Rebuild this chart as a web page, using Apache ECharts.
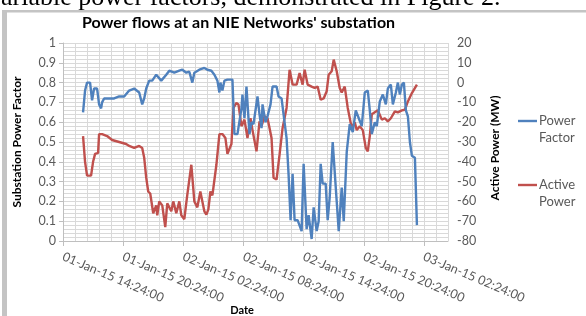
<!DOCTYPE html>
<html>
<head>
<meta charset="utf-8">
<script src="https://cdn.jsdelivr.net/npm/echarts@6/dist/echarts.min.js"></script>
<style>
html,body{margin:0;padding:0;background:#fff;}
#c{width:586px;height:316px;}
</style>
</head>
<body>
<div id="c"></div>
<script>
// hours after 01-Jan-15 14:24:00
var pfHours = [2.0,2.2,2.4,2.7,2.9,3.1,3.4,3.6,3.8,3.9,4.1,4.6,5.1,5.6,6.1,6.6,7.1,7.6,7.9,8.1,8.3,8.6,8.9,9.3,9.8,10.3,10.6,11.1,11.6,11.9,12.3,12.6,12.9,13.1,13.6,14.1,14.4,14.8,15.1,15.4,15.6,15.7,15.9,16.1,16.4,16.9,17.1,17.4,17.8,17.9,18.1,18.3,18.6,18.8,19.0,19.4,19.6,19.8,19.9,20.2,20.4,20.7,20.9,21.3,21.5,21.8,22.0,22.3,22.5,22.7,22.9,23.1,23.4,23.8,24.0,24.3,24.5,24.8,25.0,25.3,25.5,25.7,25.9,26.2,26.4,26.6,26.9,27.3,27.5,27.8,28.0,28.3,28.6,28.9,29.2,29.5,29.8,30.1,30.4,30.6,30.8,31.1,31.3,31.6,31.9,32.2,32.4,32.7,32.9,33.2,33.4,33.6,33.8,34.0,34.2,34.4,34.6,34.8,35.1,35.3];
var powerFactor = [0.65,0.76,0.80,0.80,0.71,0.77,0.77,0.69,0.67,0.70,0.72,0.72,0.72,0.73,0.73,0.76,0.77,0.75,0.69,0.72,0.77,0.81,0.81,0.84,0.81,0.84,0.86,0.85,0.86,0.865,0.85,0.855,0.80,0.85,0.865,0.874,0.865,0.86,0.84,0.81,0.75,0.80,0.76,0.81,0.815,0.815,0.54,0.54,0.67,0.74,0.62,0.78,0.54,0.60,0.59,0.73,0.64,0.57,0.69,0.60,0.63,0.69,0.78,0.78,0.73,0.72,0.64,0.52,0.335,0.105,0.34,0.105,0.105,0.05,0.39,0.06,0.13,0.01,0.17,0.05,0.10,0.39,0.29,0.29,0.105,0.22,0.50,0.20,0.05,0.27,0.10,0.45,0.59,0.55,0.66,0.62,0.58,0.75,0.76,0.66,0.54,0.60,0.58,0.705,0.74,0.69,0.77,0.79,0.69,0.75,0.80,0.74,0.79,0.80,0.66,0.63,0.50,0.43,0.42,0.08];
var apHours = [2.0,2.2,2.4,2.8,3.0,3.2,3.5,3.6,3.9,4.4,4.9,5.6,6.3,6.6,7.1,7.6,7.9,8.1,8.3,8.5,8.7,9.0,9.3,9.4,9.6,9.9,10.2,10.4,10.8,11.0,11.3,11.6,11.8,12.1,12.4,12.8,13.1,13.4,13.7,13.9,14.1,14.3,14.5,14.7,14.9,15.3,15.6,15.9,16.2,16.4,16.8,17.0,17.3,17.5,17.8,18.1,18.4,18.7,18.9,19.3,19.6,19.8,20.1,20.4,20.8,21.0,21.3,21.6,21.9,22.3,22.6,22.9,23.3,23.6,23.9,24.1,24.4,24.8,25.1,25.4,25.7,26.0,26.3,26.5,26.8,27.0,27.3,27.6,27.8,28.1,28.4,28.8,29.1,29.3,29.6,29.9,30.2,30.4,30.6,30.8,31.1,31.4,31.8,32.1,32.4,32.7,33.1,33.4,33.8,34.1,34.4,34.8,35.3];
var activePower = [-27,-40,-47,-47,-40,-36,-35.5,-26,-26,-27,-29,-30,-31,-32,-33,-32,-33,-38,-48,-55,-56,-66,-62,-67,-60,-62,-73,-61,-65,-60,-66,-60,-67,-69,-56.6,-41.5,-60,-63,-55,-60,-65,-66.7,-64,-55,-57,-41.5,-26,-26,-28,-36,-31,-12.8,-10.3,-11,-22,-18.7,-28,-18,-24,-34.7,-19.6,-22,-17,-18,-28,-48,-49,-36.4,-23,-12.8,6.5,-1,-1,4.8,-1,6.5,-1,-2,-2.7,-2,-8.6,-8,-4.4,4,5.7,11.6,5.7,-2.7,-5,-2,-12.8,-23,-20,-24,-22,-24,-33,-34.7,-27,-16,-15,-14,-18.7,-18,-19.6,-18,-14.5,-15,-14,-13.7,-9.5,-5.3,-1];
var tickLabels = ['01-Jan-15 14:24:00','01-Jan-15 20:24:00','02-Jan-15 02:24:00','02-Jan-15 08:24:00','02-Jan-15 14:24:00','02-Jan-15 20:24:00','03-Jan-15 02:24:00'];
var seriesNames = ['Power Factor','Active Power'];
var titleText = "Power flows at an NIE Networks' substation";

function zip(a,b){return a.map(function(v,i){return [v,b[i]];});}

var FONT = 'Lato';
var LBL = '#595959';
var GRID = '#d9d9d9';
var BLUE = '#4F81BD', RED = '#C0504D';

var chart = echarts.init(document.getElementById('c'), null, {renderer:'canvas'});
chart.setOption({
  animation:false,
  backgroundColor:'#fff',
  grid:{left:63,right:138,top:43,bottom:75,containLabel:false},
  xAxis:[{
    type:'value',min:0,max:38.4,interval:6,
    axisLine:{show:true,onZero:false,lineStyle:{color:'#bfbfbf',width:1}},
    axisTick:{show:true,length:5,inside:false,lineStyle:{color:'#bfbfbf'}},
    splitLine:{show:true,lineStyle:{color:GRID,width:1}},
    axisLabel:{rotate:-23,margin:15,color:LBL,fontFamily:FONT,fontSize:12.5,showMaxLabel:false,
      formatter:function(v){var i=Math.round(v/6);return (Math.abs(v-i*6)<1e-6&&tickLabels[i])?tickLabels[i]:'';}}
  },{
    type:'value',min:0,max:38.4,interval:1.2,position:'bottom',
    axisLine:{show:false},axisTick:{show:false},axisLabel:{show:false},
    splitLine:{show:true,lineStyle:{color:GRID,width:1}}
  }],
  yAxis:[{
    type:'value',min:0,max:1,interval:0.1,position:'left',
    axisLine:{show:true,lineStyle:{color:'#bfbfbf'}},
    axisTick:{show:true,length:4,lineStyle:{color:'#bfbfbf'}},
    axisLabel:{color:LBL,fontFamily:FONT,fontSize:12.5,margin:7,
      formatter:function(v){return Math.round(v*10)/10+'';}},
    splitLine:{show:true,lineStyle:{color:GRID}},
    minorTick:{show:false,splitNumber:5},
    minorSplitLine:{show:true,lineStyle:{color:GRID,width:1}}
  },{
    type:'value',min:-80,max:20,interval:10,position:'right',
    axisLine:{show:false},axisTick:{show:false},
    axisLabel:{color:LBL,fontFamily:FONT,fontSize:12.5,margin:9},
    splitLine:{show:false}
  }],
  series:[{
    name:seriesNames[0],type:'line',xAxisIndex:0,yAxisIndex:0,
    data:zip(pfHours,powerFactor),showSymbol:false,
    lineStyle:{color:BLUE,width:2.4},itemStyle:{color:BLUE},z:3
  },{
    name:seriesNames[1],type:'line',xAxisIndex:0,yAxisIndex:1,
    data:zip(apHours,activePower),showSymbol:false,
    lineStyle:{color:RED,width:2.4},itemStyle:{color:RED},z:2
  }],
  graphic:[
    {type:'text',left:-12,top:-15,style:{text:'variable power factors, demonstrated in Figure 2.',font:'26px "Liberation Serif"',fill:'#000'}},
    {type:'rect',shape:{x:2,y:10,width:584,height:2.5},style:{fill:'#c4c4c4'}},
    {type:'rect',shape:{x:2,y:10,width:5,height:306},style:{fill:'#c4c4c4'}},
    {type:'text',x:82,y:23,style:{text:titleText,font:'bold 16px '+FONT,fill:'#000',textVerticalAlign:'middle'}},
    {type:'text',x:17,y:142,rotation:Math.PI/2,style:{text:'Substation Power Factor',font:'bold 12px '+FONT,fill:'#000',textAlign:'center',textVerticalAlign:'middle'}},
    {type:'text',x:495,y:148,rotation:Math.PI/2,style:{text:'Active Power (MW)',font:'bold 12px '+FONT,fill:'#000',textAlign:'center',textVerticalAlign:'middle'}},
    {type:'text',x:242,y:310,style:{text:'Date',font:'bold 11px '+FONT,fill:'#000',textAlign:'center',textVerticalAlign:'middle'}},
    {type:'line',shape:{x1:518,y1:121,x2:537,y2:121},style:{stroke:BLUE,lineWidth:2.4}},
    {type:'text',x:539,y:121,style:{text:'Power',font:'13px '+FONT,fill:LBL,textVerticalAlign:'middle'}},
    {type:'text',x:539,y:138,style:{text:'Factor',font:'13px '+FONT,fill:LBL,textVerticalAlign:'middle'}},
    {type:'line',shape:{x1:518,y1:185,x2:537,y2:185},style:{stroke:RED,lineWidth:2.4}},
    {type:'text',x:539,y:185,style:{text:'Active',font:'13px '+FONT,fill:LBL,textVerticalAlign:'middle'}},
    {type:'text',x:539,y:202,style:{text:'Power',font:'13px '+FONT,fill:LBL,textVerticalAlign:'middle'}}
  ]
});
</script>
</body>
</html>
